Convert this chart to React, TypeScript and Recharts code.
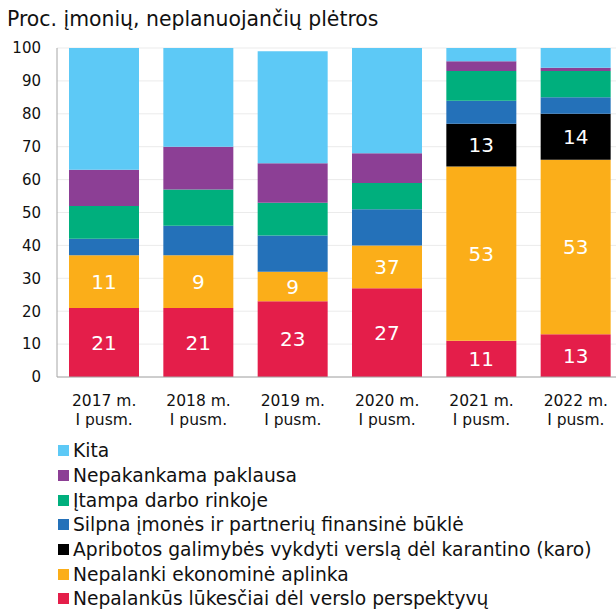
import { BarChart, Bar, XAxis, YAxis, CartesianGrid, LabelList } from "recharts";

const years = ["2017 m.", "2018 m.", "2019 m.", "2020 m.", "2021 m.", "2022 m."];
const halfLabel = "I pusm.";

// stack heights (bottom to top)
const lukesciai = [21, 21, 23, 27, 11, 13];
const aplinka = [16, 16, 9, 13, 53, 53];
const karantinas = [0, 0, 0, 0, 13, 14];
const bukle = [5, 9, 11, 11, 7, 5];
const itampa = [10, 11, 10, 8, 9, 8];
const paklausa = [11, 13, 12, 9, 3, 1];
const kita = [37, 30, 34, 32, 4, 6];

// numbers printed inside the bars
const lukesciaiLabels = [21, 21, 23, 27, 11, 13];
const aplinkaLabels = [11, 9, 9, 37, 53, 53];
const karantinasLabels = [null, null, null, null, 13, 14];

const yTicks = [0, 10, 20, 30, 40, 50, 60, 70, 80, 90, 100];

const series = [
  { key: "lukesciai", name: "Nepalankūs lūkesčiai dėl verslo perspektyvų", color: "#E41E4A", labelled: true },
  { key: "aplinka", name: "Nepalanki ekonominė aplinka", color: "#FBAE19", labelled: true },
  { key: "karantinas", name: "Apribotos galimybės vykdyti verslą dėl karantino (karo)", color: "#000000", labelled: true },
  { key: "bukle", name: "Silpna įmonės ir partnerių finansinė būklė", color: "#2471B9", labelled: false },
  { key: "itampa", name: "Įtampa darbo rinkoje", color: "#00AF7D", labelled: false },
  { key: "paklausa", name: "Nepakankama paklausa", color: "#8C3F95", labelled: false },
  { key: "kita", name: "Kita", color: "#5DC9F6", labelled: false },
];

const data = years.map((year, i) => ({
  year,
  lukesciai: lukesciai[i],
  aplinka: aplinka[i],
  karantinas: karantinas[i],
  bukle: bukle[i],
  itampa: itampa[i],
  paklausa: paklausa[i],
  kita: kita[i],
  lukesciaiLabel: lukesciaiLabels[i],
  aplinkaLabel: aplinkaLabels[i],
  karantinasLabel: karantinasLabels[i],
}));

const FONT = "'DejaVu Sans', Verdana, sans-serif";

function YearTick(props: any) {
  const { x, y, payload } = props;
  return (
    <g>
      <text x={x} y={y + 28.5} textAnchor="middle" fontSize={15.5} fontFamily={FONT} fill="#111">
        {payload.value}
      </text>
      <text x={x} y={y + 47.5} textAnchor="middle" fontSize={15.5} fontFamily={FONT} fill="#111">
        {halfLabel}
      </text>
    </g>
  );
}

function BarValue(props: any) {
  const { x, y, width, height, value } = props;
  if (value == null) return null;
  return (
    <text
      x={x + width / 2}
      y={y + height / 2}
      dy="0.36em"
      textAnchor="middle"
      fontSize={20}
      fontFamily={FONT}
      fill="#fff"
    >
      {value}
    </text>
  );
}

export default function App() {
  return (
    <div
      style={{
        position: "absolute",
        left: 0,
        top: 0,
        width: 616,
        height: 609,
        overflow: "hidden",
        background: "#fff",
        fontFamily: FONT,
      }}
    >
      <div
        style={{
          position: "absolute",
          left: 7,
          top: 7,
          fontSize: 20.4,
          lineHeight: "24px",
          color: "#111",
          whiteSpace: "nowrap",
        }}
      >
        Proc. įmonių, neplanuojančių plėtros
      </div>

      <BarChart
        width={623}
        height={437}
        data={data}
        margin={{ top: 48, right: 0, left: 0, bottom: 0 }}
        barSize={70}
      >
        <CartesianGrid vertical={false} stroke="#EBEBEB" />
        <XAxis
          dataKey="year"
          height={60}
          tickLine={false}
          tickSize={0}
          tickMargin={0}
          axisLine={{ stroke: "#A6A6A6" }}
          tick={<YearTick />}
          interval={0}
        />
        <YAxis
          width={57}
          domain={[0, 100]}
          ticks={yTicks}
          tickLine={false}
          tickSize={0}
          tickMargin={16}
          axisLine={{ stroke: "#A6A6A6" }}
          tick={{ fontSize: 15, fontFamily: FONT, fill: "#111" }}
          interval={0}
        />
        {series.map((s) => (
          <Bar key={s.key} dataKey={s.key} stackId="a" fill={s.color} isAnimationActive={false}>
            {s.labelled && <LabelList dataKey={`${s.key}Label`} content={<BarValue />} />}
          </Bar>
        ))}
      </BarChart>

      <div style={{ position: "absolute", left: 58, top: 438.3 }}>
        {[...series].reverse().map((s) => (
          <div
            key={s.key}
            style={{
              display: "flex",
              alignItems: "center",
              height: 24.7,
              fontSize: 18.7,
              color: "#111",
              whiteSpace: "nowrap",
            }}
          >
            <span
              style={{
                display: "inline-block",
                width: 11,
                height: 11,
                background: s.color,
                marginRight: 4,
                flexShrink: 0,
              }}
            />
            {s.name}
          </div>
        ))}
      </div>
    </div>
  );
}
